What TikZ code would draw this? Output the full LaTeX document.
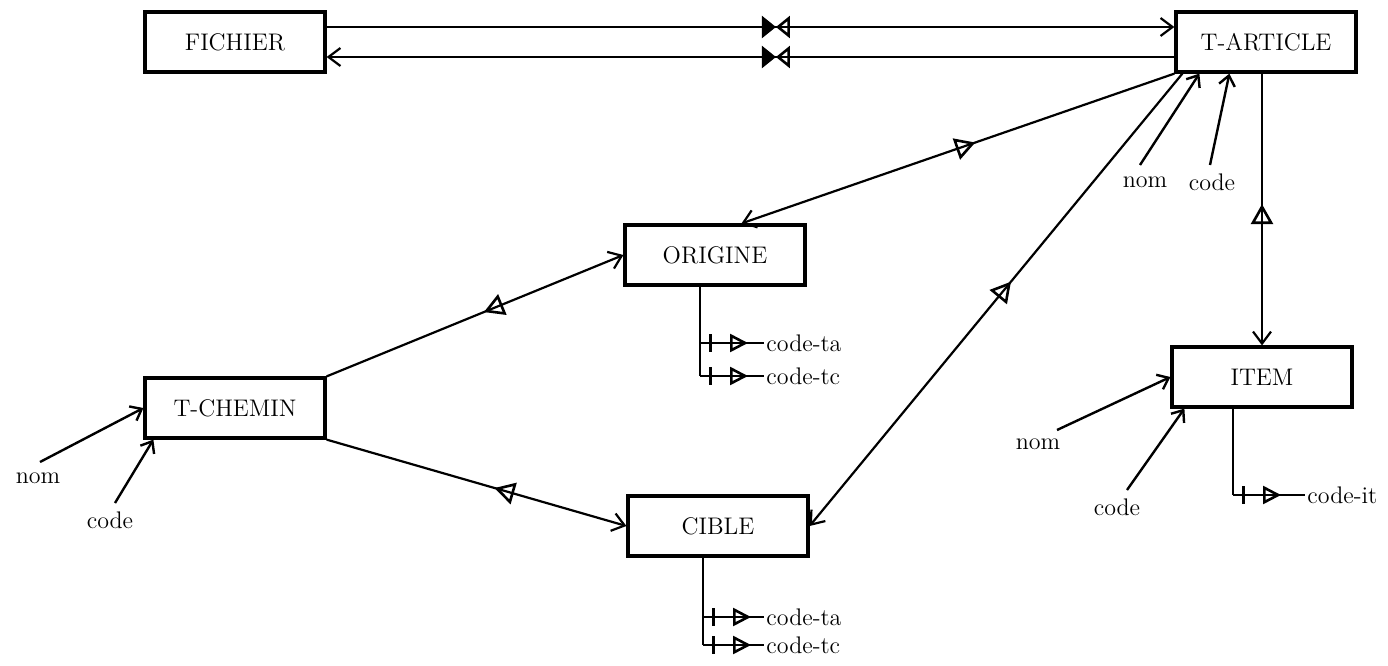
\documentclass[tikz,border=0pt]{standalone}
\usepackage{amssymb,amsmath}
\usepackage{xcolor}
\usetikzlibrary{arrows.meta,decorations.markings}

\tikzset{
  entite/.style={draw, line width=1.6pt, minimum width=90pt, minimum height=30pt, font=\large},
  lien/.style={line width=1.1pt, -{Straight Barb[length=6pt,width=9pt]}},
  multi/.style={decoration={markings, mark=at position #1 with {\arrowreversed{Triangle[open,length=10pt,width=11pt,line width=1.3pt]}}}, postaction={decorate}},
  noeud/.style={decoration={markings, mark=at position #1 with {\arrow{Triangle[length=7pt,width=11pt]}\arrowreversed{Triangle[open,length=7pt,width=11pt,line width=1.3pt]}}}, postaction={decorate}},
  attr/.style={line width=1.2pt, -{Straight Barb[length=5pt,width=8pt]}},
  cle/.style={line width=1.1pt, decoration={markings, mark=at position 6pt with {\arrow{Bar[width=9pt,line width=1.4pt]}}, mark=at position 24pt with {\arrow{Triangle[open,length=9pt,width=9pt,line width=1.3pt]}}}, postaction={decorate}},
  etiq/.style={font=\large, inner sep=1pt}
}

\begin{document}
\begin{tikzpicture}[x=0.5pt,y=-0.5pt]
            \useasboundingbox (0,0) rectangle (1388,665);
            % entites
            \node[entite] (fichier) at (235,42) {FICHIER};
            \node[entite] (tarticle) at (1266,42) {T-ARTICLE};
            \node[entite] (origine) at (715,255) {ORIGINE};
            \node[entite] (tchemin) at (235,408) {T-CHEMIN};
            \node[entite] (cible) at (718,526) {CIBLE};
            \node[entite] (item) at (1262,377) {ITEM};
            % liens
            \draw[lien, noeud=0.53] ([yshift=7.5pt]fichier.east) -- ([yshift=7.5pt]tarticle.west);
            \draw[lien, noeud=0.53, {Straight Barb[length=6pt,width=9pt]}-] ([yshift=-7.5pt]fichier.east) -- ([yshift=-7.5pt]tarticle.west);
            \draw[lien, multi=0.46] (tarticle.south west) -- (origine.50);
            \draw[lien, multi=0.46] ([xshift=4pt]tarticle.south west) -- (cible.east);
            \draw[lien, multi=0.48] (tarticle.south -| item.north) -- (item.north);
            \draw[lien, multi=0.53] (tchemin.north east) -- (origine.west);
            \draw[lien, multi=0.56] (tchemin.south east) -- (cible.west);
            % attributs
            \node[etiq] (nomtc) at (38,478) {nom};
            \node[etiq] (codetc) at (110,520) {code};
            \coordinate (nomtcA) at (40,462);
            \coordinate (codetcA) at (115,503);
            \draw[attr] (nomtcA) -- (tchemin.west);
            \draw[attr] (codetcA) -- ([xshift=5pt]tchemin.south west);
            \node[etiq] (nomta) at (1145,182) {nom};
            \node[etiq] (codeta) at (1212,182) {code};
            \coordinate (nomtaA) at (1140,165);
            \coordinate (codetaA) at (1210,165);
            \draw[attr] (nomtaA) -- ([xshift=12.5pt]tarticle.south west);
            \draw[attr] (codetaA) -- ([xshift=27.5pt]tarticle.south west);
            \node[etiq] (nomit) at (1038,444) {nom};
            \node[etiq] (codeit) at (1117,507) {code};
            \coordinate (nomitA) at (1057,430);
            \coordinate (codeitA) at (1127,490);
            \draw[attr] (nomitA) -- (item.west);
            \draw[attr] (codeitA) -- ([xshift=7pt]item.south west);
            % identifiants
            \node[etiq, anchor=west] (orta) at (764,343) {code-ta};
            \node[etiq, anchor=west] (ortc) at (764,376) {code-tc};
            \coordinate (kor) at ([xshift=-7.5pt]origine.south);
            \draw[line width=1.1pt] (kor) -- (kor |- ortc);
            \draw[cle] (kor |- orta) -- (orta.west);
            \draw[cle] (kor |- ortc) -- (ortc.west);
            \node[etiq, anchor=west] (cita) at (764,617) {code-ta};
            \node[etiq, anchor=west] (citc) at (764,645) {code-tc};
            \coordinate (kci) at ([xshift=-7.5pt]cible.south);
            \draw[line width=1.1pt] (kci) -- (kci |- citc);
            \draw[cle] (kci |- cita) -- (cita.west);
            \draw[cle] (kci |- citc) -- (citc.west);
            \node[etiq, anchor=west] (itit) at (1305,495) {code-it};
            \coordinate (kit) at ([xshift=-14.5pt]item.south);
            \draw[line width=1.1pt] (kit) -- (kit |- itit);
            \draw[cle] (kit |- itit) -- (itit.west);
        \end{tikzpicture}
\end{document}
